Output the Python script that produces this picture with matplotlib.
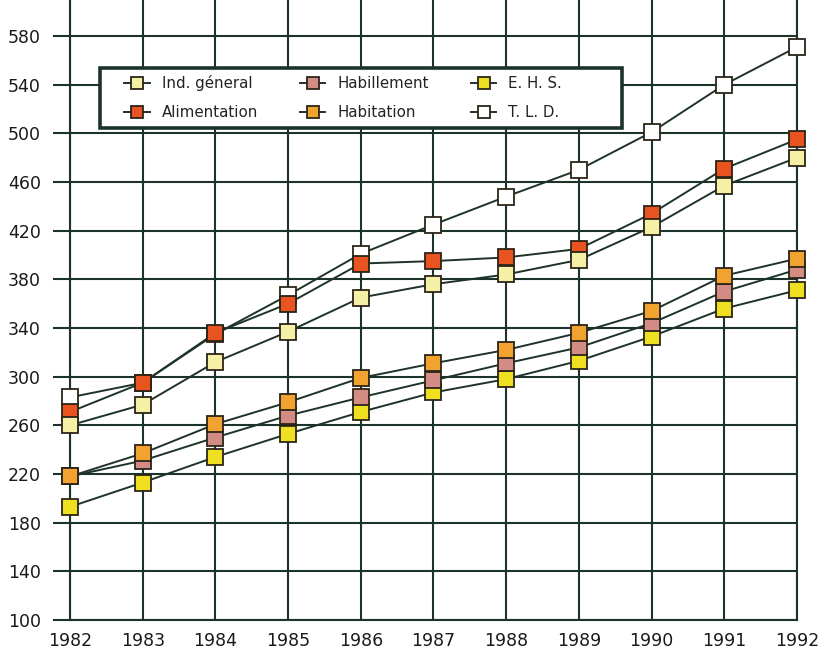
import matplotlib
matplotlib.use("Agg")
import matplotlib.pyplot as plt
from matplotlib.patches import Rectangle

years = [1982, 1983, 1984, 1985, 1986, 1987, 1988, 1989, 1990, 1991, 1992]
ind_general = [260, 277, 312, 337, 365, 376, 384, 396, 423, 457, 480]
alimentation = [271, 295, 336, 360, 393, 395, 398, 405, 434, 471, 495]
habillement = [218, 231, 250, 268, 283, 297, 311, 324, 344, 370, 388]
habitation = [218, 237, 261, 279, 299, 311, 322, 336, 354, 383, 397]
ehs = [193, 213, 234, 253, 271, 287, 298, 313, 333, 356, 371]
tld = [283, 295, 335, 367, 401, 425, 448, 470, 501, 540, 571]
y_ticks = [100, 140, 180, 220, 260, 300, 340, 380, 420, 460, 500, 540, 580]

series = [
    ("T. L. D.", tld, "#ffffff"),
    ("Alimentation", alimentation, "#e8531f"),
    ("Ind. géneral", ind_general, "#f6efa6"),
    ("E. H. S.", ehs, "#eee020"),
    ("Habillement", habillement, "#d38c84"),
    ("Habitation", habitation, "#f2a22e"),
]

grid_c = "#1c3329"
line_c = "#1e3328"
edge_c = "#2b2418"

W, H = 823, 652
fig = plt.figure(figsize=(W / 100, H / 100), dpi=100)
ax = fig.add_axes([70 / W, 32 / H, 727 / W, 620 / H])
ax.set_xlim(1982, 1992)
ax.set_ylim(100, 609.6)

handles = {}
for name, vals, col in series:
    h, = ax.plot(years, vals, color=line_c, lw=1.4, marker="s", markersize=11.5,
                 markerfacecolor=col, markeredgecolor=edge_c, markeredgewidth=1.3,
                 clip_on=False, zorder=3, label=name)
    handles[name] = h

ax.set_xticks(years)
ax.set_yticks(y_ticks)
ax.grid(True, color=grid_c, lw=1.5, zorder=0)
ax.set_axisbelow(True)
for s in ["left", "right", "bottom"]:
    ax.spines[s].set_color(grid_c)
    ax.spines[s].set_linewidth(1.5)
ax.spines["top"].set_visible(False)
ax.tick_params(axis="y", length=12, width=1.5, color=grid_c, pad=9, labelsize=12.5,
               labelcolor="#1a1a1a")
ax.tick_params(axis="x", length=0, pad=9, labelsize=12.5, labelcolor="#1a1a1a")

# legend frame
frame = Rectangle((100 / W, (H - 128) / H), 522 / W, 60 / H, transform=fig.transFigure,
                  facecolor="white", edgecolor=grid_c, linewidth=2.6, zorder=4)
fig.patches.append(frame)

order = ["Ind. géneral", "Alimentation", "Habillement", "Habitation", "E. H. S.", "T. L. D."]
leg = fig.legend([handles[n] for n in order], order, ncol=3,
                 loc="upper left", bbox_to_anchor=(124 / W, (H - 75) / H),
                 bbox_transform=fig.transFigure,
                 frameon=False, fontsize=10.8, handlelength=1.7, markerscale=0.75,
                 columnspacing=2.8, labelspacing=0.95, borderpad=0,
                 handletextpad=0.8, borderaxespad=0)
for t in leg.get_texts():
    t.set_color("#222222")
leg.set_zorder(6)

fig.savefig("out.png", dpi=100, facecolor="white")
